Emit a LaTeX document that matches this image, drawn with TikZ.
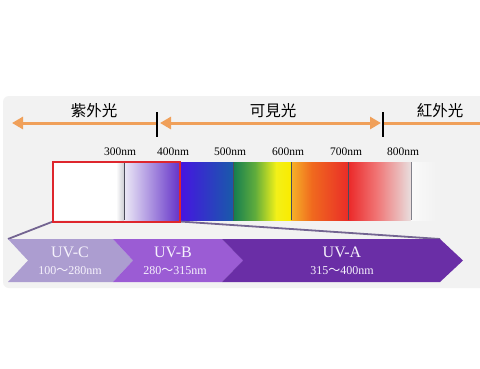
\documentclass[tikz,border=0pt]{standalone}
\usepackage{fontspec}
\setmainfont{Liberation Serif}
\newfontfamily\cjk{Noto Sans CJK TC}
\usetikzlibrary{arrows.meta}
\definecolor{panel}{RGB}{242,242,242}
\definecolor{orng}{RGB}{240,160,90}
\definecolor{boxred}{RGB}{222,38,45}
\definecolor{conncol}{RGB}{115,100,145}
\definecolor{uvc}{RGB}{172,157,208}
\definecolor{uvb}{RGB}{155,92,212}
\definecolor{uva}{RGB}{106,46,166}
\definecolor{uvtxt}{RGB}{246,242,252}
\definecolor{specline}{RGB}{75,75,90}
\tikzset{
  orarrow/.style={orng, line width=3pt},
  tickmark/.style={black, line width=1.8pt},
  cnlabel/.style={font=\cjk\fontsize{15.5}{15.5}\selectfont, text=black, inner sep=0pt},
  nmlabel/.style={font=\fontsize{11.5}{12}\selectfont, text=black, inner sep=0pt},
  uvname/.style={font=\fontsize{16}{16}\selectfont, text=uvtxt, inner sep=0pt},
  uvrange/.style={font=\fontsize{12}{12}\selectfont, text=uvtxt, inner sep=0pt},
  conn/.style={conncol, line width=1.8pt},
  sline/.style={specline, line width=1pt},
  redbox/.style={draw=boxred, line width=2pt},
  ahead/.tip={Triangle[length=11pt,width=12pt]}
}
\begin{document}
\begin{tikzpicture}[x=1pt,y=-1pt]
\useasboundingbox (0,0) rectangle (480,368);
\fill[white] (0,0) rectangle (480,368);
\fill[panel] (480,96) -- (9,96) arc[start angle=90,end angle=180,radius=6pt] -- (3,282) arc[start angle=180,end angle=270,radius=6pt] -- (480,288) -- cycle;

% top arrows
\coordinate (tickA) at (157,123);
\coordinate (tickB) at (383,123);
\coordinate (uvEnd) at (12,123);
\coordinate (visL) at (160,123);
\coordinate (visR) at (381,123);
\coordinate (irEnd) at (480,123);
\draw[orarrow, -{ahead}] (tickA) -- (uvEnd);
\draw[orarrow, {ahead}-{ahead}] (visL) -- (visR);
\draw[orarrow] (tickB) -- (irEnd);
\draw[tickmark] (157,112) -- (157,137);
\draw[tickmark] (383,112) -- (383,137);

\node[cnlabel] (uvlab) at (94,111) {紫外光};
\node[cnlabel] (vislab) at (273,111) {可見光};
\node[cnlabel] (irlab) at (440,111) {紅外光};

% wavelength labels
\node[nmlabel] (n300) at (120,152) {300nm};
\node[nmlabel] (n400) at (173,152) {400nm};
\node[nmlabel] (n500) at (230,152) {500nm};
\node[nmlabel] (n600) at (288,152) {600nm};
\node[nmlabel] (n700) at (346,152) {700nm};
\node[nmlabel] (n800) at (403,152) {800nm};

% spectrum
\fill[white] (54,162) rectangle (116,220);
\shade[left color=white, right color={rgb,255:red,205;green,205;blue,212}] (116,162) rectangle (124,220);
\shade[left color={rgb,255:red,236;green,233;blue,246}, middle color={rgb,255:red,150;green,122;blue,214}, right color={rgb,255:red,100;green,50;blue,200}] (124,162) rectangle (180,220);
\shade[left color={rgb,255:red,70;green,20;blue,225}, middle color={rgb,255:red,30;green,35;blue,238}, right color={rgb,255:red,25;green,90;blue,170}] (180,162) rectangle (233,220);
\shade[left color={rgb,255:red,20;green,125;blue,80}, right color={rgb,255:red,95;green,172;blue,60}] (233,162) rectangle (255,220);
\shade[left color={rgb,255:red,95;green,172;blue,60}, right color={rgb,255:red,240;green,240;blue,25}] (255,162) rectangle (276,220);
\shade[left color={rgb,255:red,242;green,240;blue,25}, right color={rgb,255:red,250;green,235;blue,0}] (276,162) rectangle (291,220);
\shade[left color={rgb,255:red,246;green,178;blue,40}, right color={rgb,255:red,240;green,105;blue,30}] (291,162) rectangle (312,220);
\shade[left color={rgb,255:red,240;green,105;blue,30}, right color={rgb,255:red,233;green,45;blue,40}] (312,162) rectangle (348,220);
\shade[left color={rgb,255:red,235;green,40;blue,40}, right color={rgb,255:red,240;green,115;blue,115}] (348,162) rectangle (376,220);
\shade[left color={rgb,255:red,240;green,115;blue,115}, right color={rgb,255:red,232;green,222;blue,222}] (376,162) rectangle (411,220);
\shade[left color={rgb,255:red,250;green,250;blue,250}, right color=panel] (411,162) rectangle (436,220);
\draw[sline] (124,162) -- (124,220);
\draw[sline] (233,162) -- (233,220);
\draw[sline] (291,162) -- (291,220);
\draw[sline] (348,162) -- (348,220);
\draw[sline, specline!70] (411,162) -- (411,220);

% chevron strip corners and red box corners
\coordinate (cL) at (8,239);
\coordinate (cR) at (440,239);
\coordinate (boxTL) at (53,161.5);
\coordinate (boxBL) at (53,221.5);
\coordinate (boxBR) at (180,221.5);
\coordinate (boxTR) at (180,161.5);

\draw[conn] (boxBL) -- (cL);
\draw[conn] (boxBR) -- (cR);
\draw[redbox] (boxTL) -- (boxTR) -- (boxBR) -- (boxBL) -- cycle;

% chevrons
\fill[uvc] (cL) -- (113,239) -- (133,260.5) -- (113,282) -- (8,282) -- (28,260.5) -- cycle;
\fill[uvb] (113,239) -- (222,239) -- (243,260.5) -- (222,282) -- (113,282) -- (133,260.5) -- cycle;
\fill[uva] (222,239) -- (cR) -- (463,260.5) -- (440,282) -- (222,282) -- (243,260.5) -- cycle;

\node[uvname] (uvcname) at (70,252) {UV-C};
\node[uvrange] (uvcrange) at (70,271) {100{\cjk ～}280nm};
\node[uvname] (uvbname) at (173,252) {UV-B};
\node[uvrange] (uvbrange) at (175,271) {280{\cjk ～}315nm};
\node[uvname] (uvaname) at (342,252) {UV-A};
\node[uvrange] (uvarange) at (342,271) {315{\cjk ～}400nm};
\end{tikzpicture}
\end{document}
